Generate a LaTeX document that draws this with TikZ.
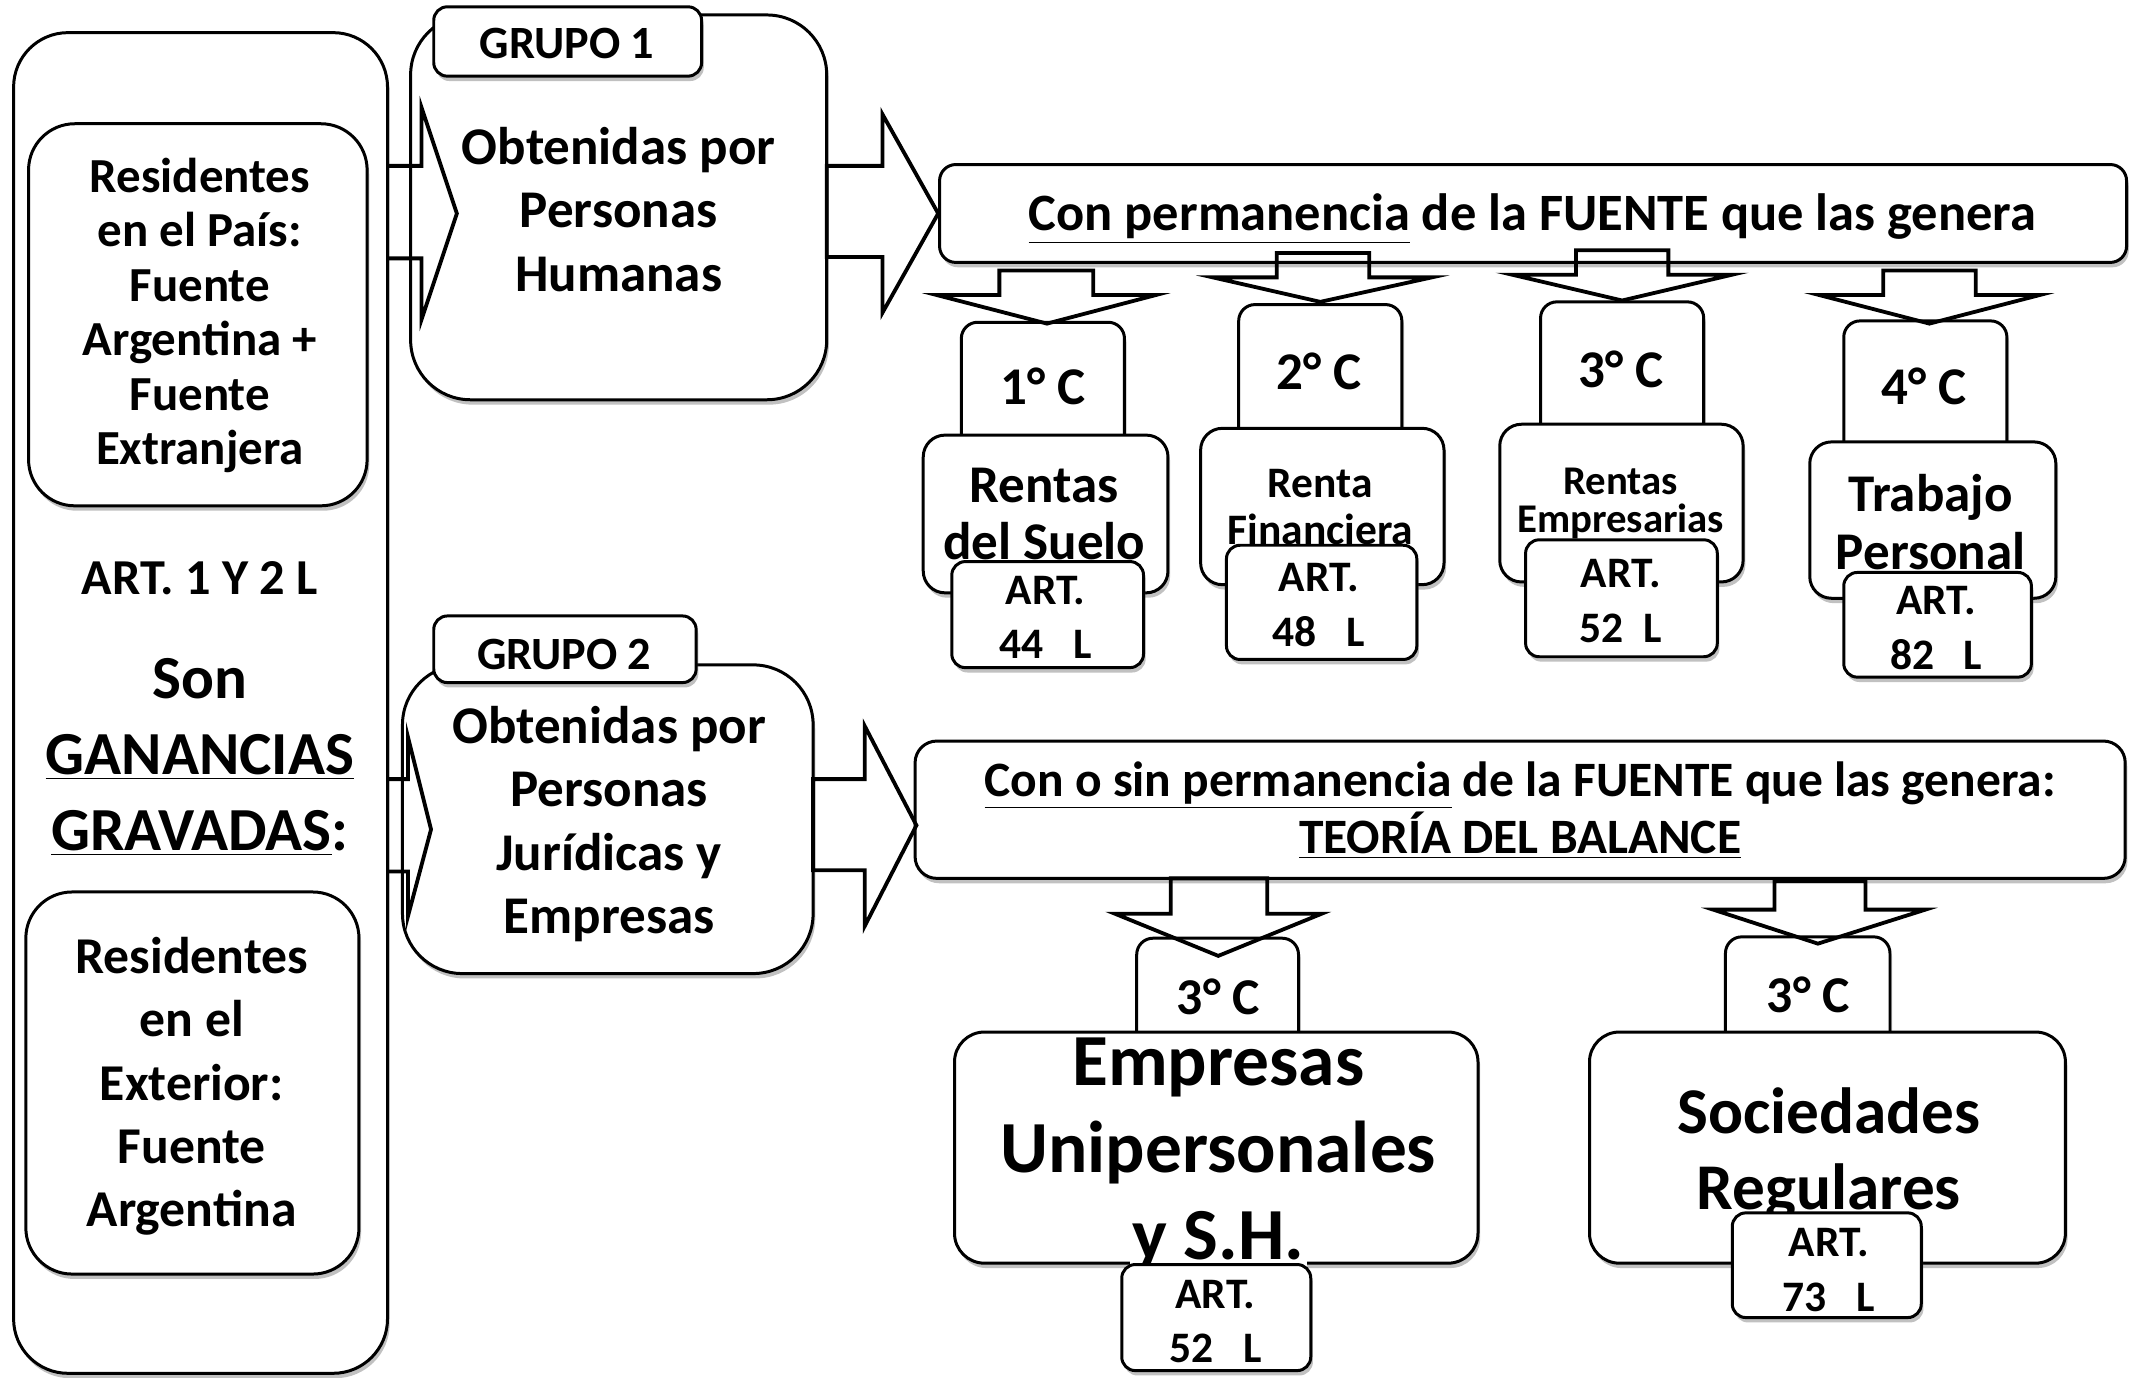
\documentclass[tikz,border=0pt]{standalone}
\usepackage{fontspec}
\setmainfont{Carlito}
\usetikzlibrary{shadows,fit}
\newcommand\fsz[2]{\fontsize{#1}{#2}\selectfont\bfseries}
\newcommand\rbox[6]{\node[bx, rounded corners=#6, fit={(#2,#3) (#4,#5)}] (#1) {};}
\begin{document}
\begin{tikzpicture}[x=0.5pt,y=-0.5pt,
  bx/.style={draw, line width=1.1pt, fill=white, inner sep=0pt, outer sep=0pt,
    drop shadow={shadow xshift=0.8pt, shadow yshift=-1.8pt, opacity=0.35, fill=black!70}},
  tx/.style={align=center, inner sep=0pt},
  barrow/.style={draw, line width=1.4pt, line join=miter}
]
\useasboundingbox (0,0) rectangle (1568,1013);

% ---------- left column ----------
\rbox{outer}{10}{24}{285}{1010}{20pt}
\rbox{tl}{21}{91}{270}{372}{17pt}
\node[tx, font=\fsz{18}{20}] (tlt) at (147,232) {Residentes\\en el País:\\Fuente\\Argentina +\\Fuente\\Extranjera};
\node[tx, font=\fsz{18.5}{22}] (art12) at (147,425) {ART. 1 Y 2 L};
\node[tx, font=\fsz{22.5}{28}] (son) at (147,557) {Son\\\underline{GANANCIAS}\\\underline{GRAVADAS}:};
\rbox{bl}{19}{656}{264}{937}{17pt}
\node[tx, font=\fsz{19}{23.25}] (blt) at (141,799) {Residentes\\en el\\Exterior:\\Fuente\\Argentina};

% ---------- group 1 ----------
\rbox{g1}{302}{11}{608}{294}{22pt}
\rbox{g1tab}{319}{5}{516}{56}{5pt}
\node[tx, font=\fsz{17}{20}] (g1tabt) at (417,32) {GRUPO 1};
\node[tx, font=\fsz{19.5}{23.25}] (g1t) at (455,154) {Obtenidas por\\Personas\\Humanas};

\rbox{con}{691}{121}{1564}{193}{6pt}
\node[tx, font=\fsz{19.3}{22}] (cont) at (1127,161) {\underline{Con permanencia} de la FUENTE que las genera};

% column 1
\rbox{c1}{707}{237}{827}{340}{6pt}
\node[tx, font=\fsz{19.5}{22}] (c1t) at (767,284) {1° C};
\rbox{r1}{679}{320}{859}{436}{8pt}
\node[tx, font=\fsz{19.5}{21}] (r1t) at (768,378) {Rentas\\del Suelo};
\rbox{a1}{700}{413}{841}{491}{5pt}
\node[tx, font=\fsz{16}{20}] (a1t) at (769,454) {ART.\\44\ \ \ L};
% column 2
\rbox{c2}{911}{224}{1031}{330}{6pt}
\node[tx, font=\fsz{19.5}{22}] (c2t) at (970,273) {2° C};
\rbox{r2}{883}{315}{1062}{430}{8pt}
\node[tx, font=\fsz{16}{17.5}] (r2t) at (971,373) {Renta\\Financiera};
\rbox{a2}{902}{401}{1042}{485}{5pt}
\node[tx, font=\fsz{16}{20}] (a2t) at (970,445) {ART.\\48\ \ \ L};
% column 3
\rbox{c3}{1133}{222}{1253}{328}{6pt}
\node[tx, font=\fsz{19.5}{22}] (c3t) at (1192,272) {3° C};
\rbox{r3}{1103}{312}{1282}{428}{8pt}
\node[tx, font=\fsz{15}{14}] (r3t) at (1192,370) {Rentas\\Empresarias};
\rbox{a3}{1122}{397}{1263}{483}{5pt}
\node[tx, font=\fsz{16}{20}] (a3t) at (1192,442) {ART.\\52\ \ L};
% column 4
\rbox{c4}{1356}{236}{1476}{345}{6pt}
\node[tx, font=\fsz{19.5}{22}] (c4t) at (1415,284) {4° C};
\rbox{r4}{1331}{325}{1512}{440}{8pt}
\node[tx, font=\fsz{19.5}{21}] (r4t) at (1420,384) {Trabajo\\Personal};
\rbox{a4}{1356}{421}{1494}{498}{5pt}
\node[tx, font=\fsz{16}{20}] (a4t) at (1424,462) {ART.\\82\ \ \ L};

% ---------- group 2 ----------
\rbox{g2}{296}{489}{598}{716}{22pt}
\rbox{g2tab}{319}{453}{512}{502}{5pt}
\node[tx, font=\fsz{17}{20}] (g2tabt) at (415,481) {GRUPO 2};
\node[tx, font=\fsz{19.5}{23.25}] (g2t) at (448,606) {Obtenidas por\\Personas\\Jurídicas y\\Empresas};

\rbox{cos}{673}{545}{1563}{646}{8pt}
\node[tx, font=\fsz{18.2}{17.5}] (cost) at (1118,596) {\underline{Con o sin permanencia} de la FUENTE que las genera:\\\underline{TEORÍA DEL BALANCE}};

% left branch
\rbox{c5}{836}{690}{955}{790}{6pt}
\node[tx, font=\fsz{19}{22}] (c5t) at (896,733) {3° C};
\rbox{e5}{702}{759}{1087}{929}{11pt}
\node[tx, font=\fsz{27}{32}] (e5t) at (896,850) {Empresas\\Unipersonales\\\setlength{\fboxsep}{1pt}\colorbox{white}{y S.H.}};
\rbox{a5}{825}{930}{964}{1008}{5pt}
\node[tx, font=\fsz{16}{20}] (a5t) at (894,972) {ART.\\52\ \ \ L};
% right branch
\rbox{c6}{1269}{689}{1390}{790}{6pt}
\node[tx, font=\fsz{19}{22}] (c6t) at (1330,732) {3° C};
\rbox{e6}{1169}{759}{1519}{929}{11pt}
\node[tx, font=\fsz{24}{28}] (e6t) at (1345,849) {Sociedades\\Regulares};
\rbox{a6}{1274}{892}{1413}{969}{5pt}
\node[tx, font=\fsz{16}{20}] (a6t) at (1345,934) {ART.\\73\ \ \ L};

% ---------- block arrows ----------
\draw[barrow] (285,122) -- (310,122) -- (310,79) -- (336,157) -- (310,235) -- (310,190) -- (285,190);
\draw[barrow] (608,122) -- (649,122) -- (649,84) -- (690,157) -- (649,230) -- (649,189) -- (608,189) -- cycle;
\draw[barrow] (285,573) -- (300,573) -- (300,542) -- (317,610) -- (300,674) -- (300,641) -- (285,641);
\draw[barrow] (598,573) -- (636,573) -- (636,534) -- (674,607) -- (636,681) -- (636,640) -- (598,640) -- cycle;

\draw[barrow] (735,199) -- (804,199) -- (804,217) -- (850,217) -- (770,238) -- (689,217) -- (735,217) -- cycle;
\draw[barrow] (939,186) -- (1007,186) -- (1007,204) -- (1053,204) -- (971,222) -- (892,204) -- (939,204) -- cycle;
\draw[barrow] (1159,184) -- (1227,184) -- (1227,202) -- (1274,202) -- (1193,221) -- (1112,202) -- (1159,202) -- cycle;
\draw[barrow] (1385,199) -- (1453,199) -- (1453,217) -- (1500,217) -- (1419,238) -- (1338,217) -- (1385,217) -- cycle;

\draw[barrow] (861,646) -- (932,646) -- (932,672) -- (972,672) -- (896,703) -- (820,672) -- (861,672) -- cycle;
\draw[barrow] (1305,648) -- (1372,648) -- (1372,669) -- (1416,669) -- (1337,694) -- (1260,669) -- (1305,669) -- cycle;
\end{tikzpicture}
\end{document}
